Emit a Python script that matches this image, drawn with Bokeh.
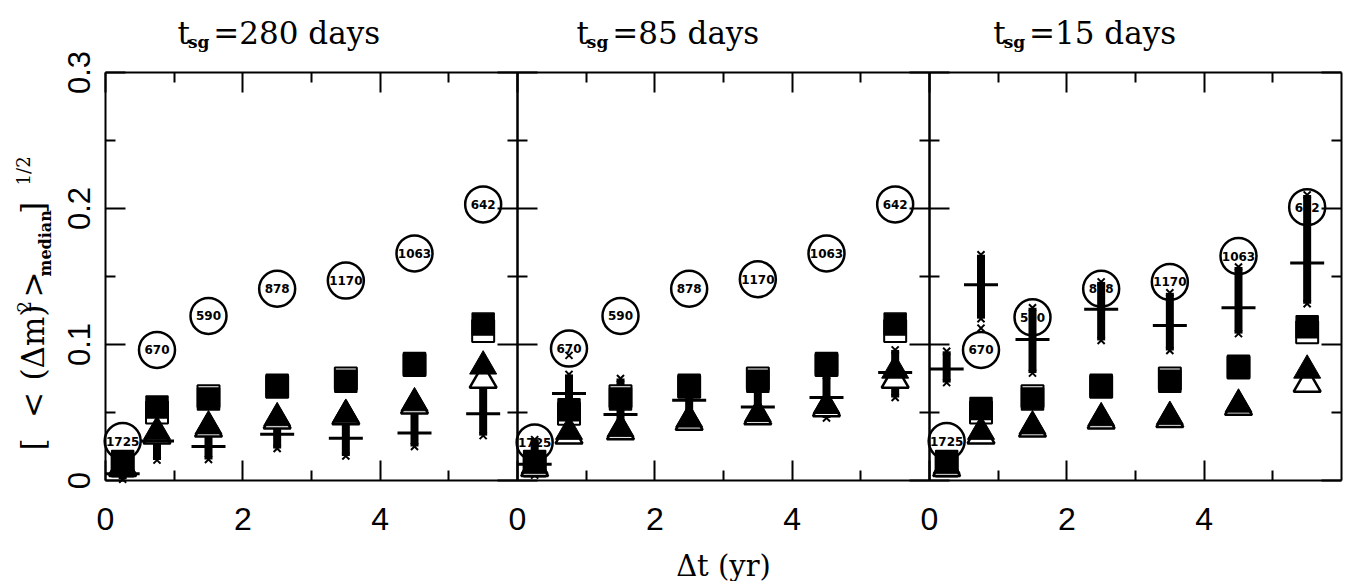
import math
from bokeh.plotting import figure
from bokeh.models import Range1d, LinearAxis, FixedTicker, Label, ColumnDataSource
from bokeh.embed import file_html
from bokeh.resources import INLINE
from bokeh.core.properties import value

# ---------------- data ----------------
dt = [0.25, 0.75, 1.5, 2.5, 3.5, 4.5, 5.5]
n_labels = ["1725", "670", "590", "878", "1170", "1063", "642"]
t_sg = ["280", "85", "15"]

x_ticks = [0, 2, 4]
x_minor = [1, 3, 5]
x_tick_labels = ["0", "2", "4"]
y_ticks = [0, 0.1, 0.2, 0.3]
y_minor = [0.05, 0.15, 0.25]
y_tick_labels = ["0", "0.1", "0.2", "0.3"]

# open circles (numbered)
circ_280 = [0.029, 0.096, 0.121, 0.141, 0.147, 0.167, 0.203]
circ_85 = [0.028, 0.097, 0.121, 0.141, 0.148, 0.167, 0.203]
circ_15 = [0.029, 0.096, 0.120, 0.141, 0.146, 0.165, 0.201]

# filled squares
sqf_280 = [0.014, 0.054, 0.060, 0.070, 0.073, 0.086, 0.115]
sqf_85 = [0.014, 0.052, 0.060, 0.070, 0.073, 0.086, 0.115]
sqf_15 = [0.014, 0.053, 0.060, 0.070, 0.073, 0.084, 0.113]
# open squares
sqo_280 = [0.011, 0.050, 0.062, 0.069, 0.075, 0.085, 0.110]
sqo_85 = [0.011, 0.049, 0.062, 0.069, 0.075, 0.085, 0.110]
sqo_15 = [0.011, 0.050, 0.062, 0.069, 0.075, 0.083, 0.109]

# filled triangles
trf_280 = [0.011, 0.036, 0.040, 0.046, 0.0485, 0.057, 0.084]
trf_85 = [0.011, 0.036, 0.038, 0.045, 0.049, 0.055, 0.081]
trf_15 = [0.011, 0.036, 0.040, 0.046, 0.047, 0.056, 0.081]
# open triangles
tro_280 = [0.009, 0.033, 0.038, 0.044, 0.047, 0.055, 0.074]
tro_85 = [0.009, 0.033, 0.036, 0.043, 0.047, 0.053, 0.074]
tro_15 = [0.009, 0.033, 0.038, 0.044, 0.045, 0.054, 0.071]

# spread of individual realisations (x symbols): lowest and highest
xlo_280 = [0.001, 0.015, 0.0155, 0.0235, 0.018, 0.025, 0.033]
xhi_280 = [0.010, 0.035, 0.040, 0.046, 0.048, 0.056, 0.070]
xlo_85 = [0.004, 0.035, 0.038, 0.045, 0.047, 0.046, 0.061]
xhi_85 = [0.030, 0.078, 0.075, 0.066, 0.068, 0.077, 0.096]
xlo_15 = [0.072, 0.119, 0.079, 0.103, 0.0956, 0.108, 0.130]
xhi_15 = [0.095, 0.166, 0.127, 0.146, 0.138, 0.157, 0.210]
# isolated x symbols
xo_x_85 = [0.75]
xo_y_85 = [0.092]
xo_x_15 = [0.75]
xo_y_15 = [0.112]

# medians (horizontal dashes)
med_280 = [0.005, 0.029, 0.025, 0.034, 0.031, 0.035, 0.049]
med_85 = [0.012, 0.064, 0.0485, 0.059, 0.054, 0.061, 0.0795]
med_15 = [0.082, 0.144, 0.1036, 0.126, 0.114, 0.127, 0.160]

panels = [
    dict(circ=circ_280, sqf=sqf_280, sqo=sqo_280, trf=trf_280, tro=tro_280,
         xlo=xlo_280, xhi=xhi_280, xox=[], xoy=[], med=med_280, tsg=t_sg[0]),
    dict(circ=circ_85, sqf=sqf_85, sqo=sqo_85, trf=trf_85, tro=tro_85,
         xlo=xlo_85, xhi=xhi_85, xox=xo_x_85, xoy=xo_y_85, med=med_85, tsg=t_sg[1]),
    dict(circ=circ_15, sqf=sqf_15, sqo=sqo_15, trf=trf_15, tro=tro_15,
         xlo=xlo_15, xhi=xhi_15, xox=xo_x_15, xoy=xo_y_15, med=med_15, tsg=t_sg[2]),
]

# ---------------- layout / style ----------------
W, H = 1347, 581
PW = 6.0                    # width of one panel in data units
PX_X = 412.0 / PW           # pixels per x unit
PX_Y = 408.0 / 0.3          # pixels per y unit
LEFT, BOTTOM, TOP = 105, 101, 72
x0 = -LEFT / PX_X
x1 = x0 + W / PX_X
y0 = -BOTTOM / PX_Y
y1 = 0.3 + TOP / PX_Y

SERIF = "DejaVu Serif"
SANS = "Liberation Sans"
title_x = [1.05, 0.86, 0.93]

p = figure(width=W, height=H, x_range=Range1d(x0, x1), y_range=Range1d(y0, y1),
           output_backend="svg", toolbar_location=None,
           x_axis_location=None, y_axis_location=None,
           min_border_left=0, min_border_right=0, min_border_top=0, min_border_bottom=0)
p.grid.visible = False
p.outline_line_color = None
p.background_fill_color = "white"
p.border_fill_color = "white"


def style(ax):
    ax.major_tick_in = 20
    ax.major_tick_out = 0
    ax.minor_tick_in = 10
    ax.minor_tick_out = 0
    ax.major_tick_line_width = 2
    ax.minor_tick_line_width = 2
    ax.major_tick_line_color = "black"
    ax.minor_tick_line_color = "black"
    ax.axis_line_color = "black"
    ax.axis_line_width = 2
    return ax


all_xt = [t + PW * k for k in range(3) for t in x_ticks]
all_xm = [t + PW * k for k in range(3) for t in x_minor]
all_xl = x_tick_labels * 3

bx = style(LinearAxis(ticker=FixedTicker(ticks=all_xt, minor_ticks=all_xm),
                      fixed_location=0, bounds=(0, 3 * PW)))
bx.major_label_overrides = dict(zip(all_xt, all_xl))
bx.major_label_text_font = SANS
bx.major_label_text_font_size = "32px"
bx.major_label_text_color = "black"
bx.major_label_standoff = 27
p.add_layout(bx, "below")

tx = style(LinearAxis(ticker=FixedTicker(ticks=all_xt, minor_ticks=all_xm),
                      fixed_location=0.3, bounds=(0, 3 * PW)))
tx.major_label_overrides = {t: "" for t in all_xt}
p.add_layout(tx, "above")

for k in range(3):
    ly = style(LinearAxis(ticker=FixedTicker(ticks=y_ticks, minor_ticks=y_minor),
                          fixed_location=PW * k, bounds=(0, 0.3)))
    if k == 0:
        ly.major_label_overrides = dict(zip(y_ticks, y_tick_labels))
        ly.major_label_orientation = "parallel"
        ly.major_label_text_font = SANS
        ly.major_label_text_font_size = "31px"
        ly.major_label_text_color = "black"
        ly.major_label_standoff = 16
    else:
        ly.major_label_overrides = {t: "" for t in y_ticks}
    p.add_layout(ly, "left")
    ry = style(LinearAxis(ticker=FixedTicker(ticks=y_ticks, minor_ticks=y_minor),
                          fixed_location=PW * (k + 1), bounds=(0, 0.3)))
    ry.major_label_overrides = {t: "" for t in y_ticks}
    p.add_layout(ry, "right")

for i, pd_ in enumerate(panels):
    xs = [d + PW * i for d in dt]
    src = ColumnDataSource(dict(x=xs, circ=pd_["circ"], lab=n_labels, sqf=pd_["sqf"], sqo=pd_["sqo"],
                                trf=pd_["trf"], tro=pd_["tro"], xlo=pd_["xlo"], xhi=pd_["xhi"],
                                med=pd_["med"]))
    p.scatter("x", "circ", source=src, marker="circle", size=36, fill_color="white",
              line_color="black", line_width=2.5)
    p.text("x", "circ", text="lab", source=src, text_align="center", text_baseline="middle",
           text_font=value("DejaVu Sans"), text_font_style="bold", text_font_size="12px",
           text_color="black")
    p.segment("x", "xlo", "x", "xhi", source=src, line_width=8, line_color="black")
    p.scatter("x", "xlo", source=src, marker="x", size=10, line_width=2, line_color="black")
    p.scatter("x", "xhi", source=src, marker="x", size=10, line_width=2, line_color="black")
    if pd_["xox"]:
        p.scatter([d + PW * i for d in pd_["xox"]], pd_["xoy"], marker="x", size=10,
                  line_width=2, line_color="black")
    p.scatter("x", "sqo", source=src, marker="square", size=22, fill_color="white",
              line_color="black", line_width=2)
    p.scatter("x", "sqf", source=src, marker="square", size=22, fill_color="black",
              line_color="black", line_width=1.5)
    p.scatter("x", "tro", source=src, marker="triangle", size=27, fill_color="white",
              line_color="black", line_width=2.5)
    p.scatter("x", "trf", source=src, marker="triangle", size=27, fill_color="black",
              line_color="black", line_width=1)
    p.scatter("x", "med", source=src, marker="dash", size=34, line_width=3, line_color="black")

    t0 = title_x[i] + PW * i
    p.add_layout(Label(x=t0, y=0.3287, text="t", text_font=SERIF, text_font_size="31px",
                       text_color="black", text_baseline="alphabetic"))
    p.add_layout(Label(x=t0 + 0.15, y=0.3225, text="sg", text_font=SERIF, text_font_size="17px",
                       text_font_style="bold", text_color="black", text_baseline="alphabetic"))
    p.add_layout(Label(x=t0 + 0.52, y=0.3287, text="=" + pd_["tsg"] + " days", text_font=SERIF,
                       text_font_size="31px", text_color="black", text_baseline="alphabetic"))

# x-axis title
p.add_layout(Label(x=PW * 1.5, y=-0.0625, text="Δt (yr)", text_font=SERIF, text_font_size="29px",
                   text_color="black", text_align="center", text_baseline="alphabetic"))

# y-axis title built from pieces (super/subscripts)
ang = math.pi / 2
pieces = [
    ("[", -1.063, 0.022, "31px", "normal"),
    ("<", -1.063, 0.046, "31px", "normal"),
    ("(Δm)", -1.063, 0.0735, "31px", "normal"),
    ("2", -1.194, 0.1235, "18px", "normal"),
    (">", -1.063, 0.1346, "31px", "normal"),
    ("median", -0.874, 0.150, "16px", "bold"),
    ("]", -1.063, 0.196, "31px", "normal"),
    ("1/2", -1.194, 0.217, "18px", "normal"),
]
for txt, xx, yy, fs, st in pieces:
    p.add_layout(Label(x=xx, y=yy, text=txt, angle=ang, text_font=SERIF, text_font_size=fs,
                       text_font_style=st, text_color="black", text_align="left",
                       text_baseline="alphabetic"))

open("out.html", "w").write(file_html(p, INLINE))
